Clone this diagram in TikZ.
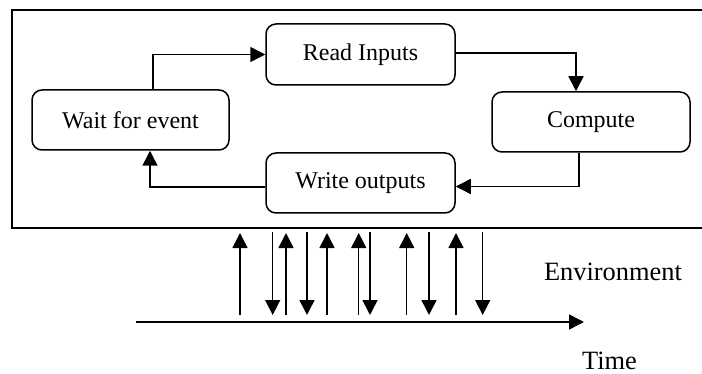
\documentclass[tikz,border=0pt]{standalone}
\usepackage{fontspec}
\setmainfont{Liberation Serif}
\usetikzlibrary{arrows.meta,calc}

\tikzset{
  stage/.style={draw, line width=0.75pt, rounded corners=5pt, inner sep=0pt,
                font=\fontsize{12}{14}\selectfont},
  flow/.style={line width=0.75pt, -{Triangle[length=7.5pt,width=7.5pt]}},
  label/.style={font=\fontsize{13.2}{15}\selectfont, anchor=base, inner sep=0pt},
}

\begin{document}
\begin{tikzpicture}[x=0.5pt, y=-0.5pt]
  \useasboundingbox (0,0) rectangle (702,374);

  % system frame (open to the right)
  \draw[line width=1pt] (705,10) -- (12,10) -- (12,228) -- (705,228);

  % processing loop
  \node[stage, minimum width=98.5pt, minimum height=30pt] (wait)    at (130.5,120) {Wait for event};
  \node[stage, minimum width=94.5pt, minimum height=30.5pt] (read)  at (360.5,54.5) {Read Inputs};
  \node[stage, minimum width=99pt,  minimum height=30pt] (compute) at (591,122)    {Compute};
  \node[stage, minimum width=94.5pt, minimum height=30pt] (write)   at (360.5,183)  {Write outputs};

  \draw[flow] ($(wait.north)+(22.5,0)$) |- (read.west);
  \draw[flow] ($(read.east)+(0,-1.5)$) -| ($(compute.north)+(-15,0)$);
  \draw[flow] ($(compute.south)+(-12,0)$) |- ($(write.east)+(0,3.5)$);
  \draw[flow] ($(write.west)+(0,4)$) -| ($(wait.south)+(19.5,0)$);

  % interaction with the environment
  \foreach \x [count=\i] in {240,286,327,358.7,406.7,456} {
    \coordinate (ulo\i) at (\x,315);
    \coordinate (uhi\i) at (\x,233);
    \draw[flow] (ulo\i) -- (uhi\i);
  }
  \foreach \x [count=\i] in {272.7,307,370,429,482.7} {
    \coordinate (dhi\i) at (\x,232);
    \coordinate (dlo\i) at (\x,315);
    \draw[flow] (dhi\i) -- (dlo\i);
  }

  % time axis
  \coordinate (t0) at (136,322);
  \coordinate (t1) at (584,322);
  \draw[flow] (t0) -- (t1);

  \node[label] (env)  at (613,280) {Environment};
  \node[label] (time) at (609.5,369) {Time};
\end{tikzpicture}
\end{document}
